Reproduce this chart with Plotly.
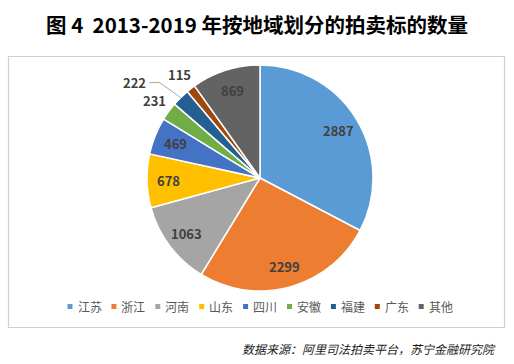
import math
import plotly.graph_objects as go

title_text = "图 4  2013-2019 年按地域划分的拍卖标的数量"
source_text = "数据来源：阿里司法拍卖平台，苏宁金融研究院"
regions = ["江苏", "浙江", "河南", "山东", "四川", "安徽", "福建", "广东", "其他"]
counts = [2887, 2299, 1063, 678, 469, 231, 222, 115, 869]
colors = ["#5B9BD5", "#ED7D31", "#A5A5A5", "#FFC000", "#4472C4",
          "#70AD47", "#255E91", "#9E480E", "#636363"]
label_mode = ["in", "in", "in", "in", "in", "out", "leader", "out", "in"]

W, H = 514, 364
cx, cy, R = 260, 178, 113

def px(x):
    return x / W

def py(y):
    return 1 - y / H

fig = go.Figure()
fig.add_trace(go.Pie(
    labels=regions, values=counts, sort=False, direction="clockwise",
    rotation=0,
    marker=dict(colors=colors, line=dict(color="white", width=1.5)),
    textinfo="none",
    domain=dict(x=[px(cx - R), px(cx + R)], y=[py(cy + R), py(cy - R)]),
    showlegend=False, hoverinfo="label+value",
))

shapes = [dict(type="rect", xref="paper", yref="paper", layer="below",
               x0=px(8.5), x1=px(504.5), y0=py(327.5), y1=py(56.5),
               line=dict(color="#D0D0D0", width=1.2), fillcolor="rgba(255,255,255,0)")]
annotations = [
    dict(text=f"<b>{title_text}</b>", x=px(257), y=py(24), xref="paper", yref="paper",
         showarrow=False, xanchor="center", yanchor="middle",
         font=dict(family="Noto Sans CJK SC", size=20.5, color="#000000")),
    dict(text=f"<i>{source_text}</i>", x=px(498), y=py(348), xref="paper", yref="paper",
         showarrow=False, xanchor="right", yanchor="middle",
         font=dict(family="Noto Sans CJK SC", size=12, color="#1a1a1a")),
]

# data labels, positioned at each slice's mid-angle (derived from counts)
total = sum(counts)
cum = 0
lab_font = dict(family="Noto Sans CJK SC", size=13, color="#404040", weight="bold")
for v, mode in zip(counts, label_mode):
    mid = (cum + v / 2) / total * 2 * math.pi
    cum += v
    s, c = math.sin(mid), math.cos(mid)
    if mode == "in":
        r = 0.81 * R
        annotations.append(dict(text=str(v), x=px(cx + r * s), y=py(cy - r * c),
                                xref="paper", yref="paper", showarrow=False,
                                xanchor="center", yanchor="middle", font=lab_font))
    elif mode == "out":
        r = R + 18
        annotations.append(dict(text=str(v), x=px(cx + r * s), y=py(cy - r * c),
                                xref="paper", yref="paper", showarrow=False,
                                xanchor="center", yanchor="middle", font=lab_font))
    else:
        ex, ey = cx + R * s, cy - R * c
        kx, ky = ex - 21, ey - 15
        shapes.append(dict(type="path", xref="paper", yref="paper",
                           path=f"M {px(ex)} {py(ey)} L {px(kx)} {py(ky)} L {px(kx - 10)} {py(ky)}",
                           line=dict(color="#A6A6A6", width=1)))
        annotations.append(dict(text=str(v), x=px(kx - 12), y=py(ky), xref="paper", yref="paper",
                                showarrow=False, xanchor="right", yanchor="middle", font=lab_font))

# legend row (built from the category list)
lx0, lstep, ly = 67.5, 43.9, 306.5
for i, (name, col) in enumerate(zip(regions, colors)):
    x = lx0 + i * lstep
    shapes.append(dict(type="rect", xref="paper", yref="paper",
                       x0=px(x), x1=px(x + 5), y0=py(ly + 2.5), y1=py(ly - 2.5),
                       line=dict(width=0), fillcolor=col))
    annotations.append(dict(text=name, x=px(x + 8), y=py(ly), xref="paper", yref="paper",
                            showarrow=False, xanchor="left", yanchor="middle",
                            font=dict(family="Noto Sans CJK SC", size=12, color="#595959")))

fig.update_layout(
    width=W, height=H, margin=dict(l=0, r=0, t=0, b=0),
    paper_bgcolor="white", plot_bgcolor="white",
    shapes=shapes, annotations=annotations,
)
fig.write_html("out.html", config={"displayModeBar": False},
               post_script="document.body.style.margin='0px';")
